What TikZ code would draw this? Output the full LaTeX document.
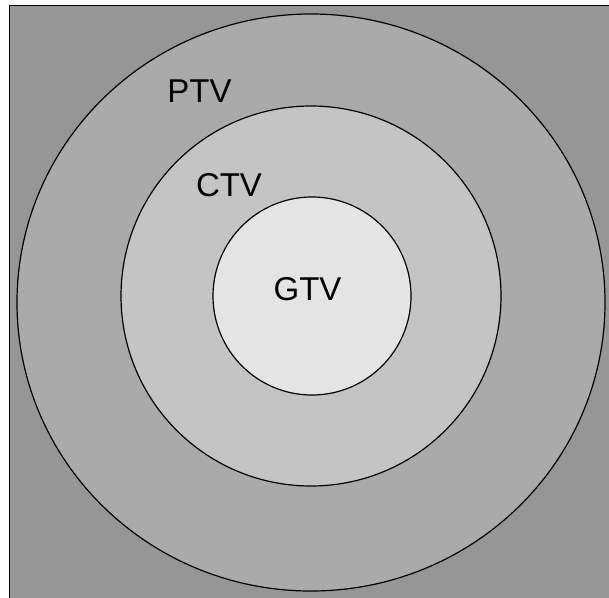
\documentclass[tikz,border=0pt]{standalone}
\usepackage{fontspec}
\setmainfont{Liberation Sans}
\usetikzlibrary{shapes.geometric}
\definecolor{bgfill}{gray}{0.59}
\definecolor{ptvfill}{gray}{0.665}
\definecolor{ctvfill}{gray}{0.77}
\definecolor{gtvfill}{gray}{0.895}
\tikzset{
  zone/.style={draw=black, line width=1.2pt, inner sep=0pt},
  lbl/.style={font=\fontsize{33}{36}\selectfont, text=black, inner sep=0pt}
}
\begin{document}
\begin{tikzpicture}[x=1pt, y=-1pt]
  \useasboundingbox (0,0) rectangle (609,597);
  \clip (0,0) rectangle (609,597);
  \fill[white] (0,0) rectangle (609,597);
  % background square, running off the right and bottom edges
  \draw[fill=bgfill, line width=1.6pt] (9.5,5.5) rectangle (615,603);
  % nested target volumes
  \node[zone, ellipse, fill=ptvfill, minimum width=588pt, minimum height=577pt] (ptv) at (311,302.5) {};
  \node[zone, circle, fill=ctvfill, minimum size=380pt] (ctv) at (311,296) {};
  \node[zone, circle, fill=gtvfill, minimum size=198pt] (gtv) at (312,296) {};
  % labels
  \node[lbl] (ptvlabel) at (199.5,91) {PTV};
  \node[lbl] (ctvlabel) at (229,185) {CTV};
  \node[lbl] (gtvlabel) at (307.5,289) {GTV};
\end{tikzpicture}
\end{document}
